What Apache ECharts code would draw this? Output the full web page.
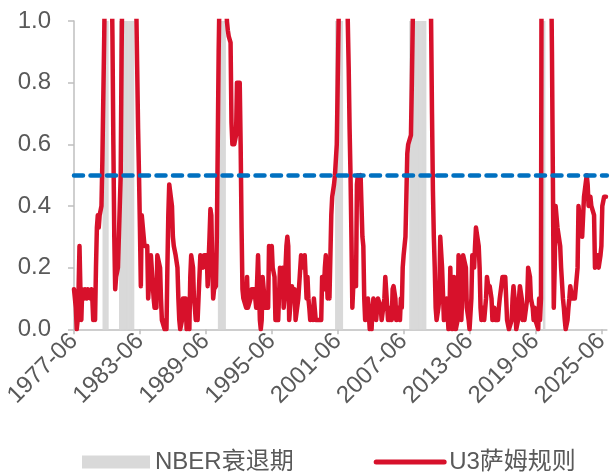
<!DOCTYPE html>
<html>
<head>
<meta charset="utf-8">
<script src="https://cdn.jsdelivr.net/npm/echarts@6/dist/echarts.min.js"></script>
<style>
html,body{margin:0;padding:0;background:#ffffff;}
#chart{width:612px;height:472px;}
</style>
</head>
<body>
<div id="chart"></div>
<script>
// Monthly axis: 1977-06 .. 2025-12
const startYear = 1977, startMonth = 6, endYear = 2025, endMonth = 12;
const tickLabelEvery = 72; // one label every 6 years (1977-06, 1983-06, ...)

// U3 Sahm rule indicator, monthly (values above 1.0 are clipped by the axis)
const sahmU3 = [
  /*1977 Jun-Dec*/ 0.13, 0.13, 0.07, 0.0, 0.03, 0.13, 0.27,
  /*1978*/ 0.13, 0.03, 0.13, 0.13, 0.1, 0.13, 0.13, 0.1, 0.13, 0.13, 0.13, 0.1,
  /*1979*/ 0.13, 0.1, 0.03, 0.07, 0.03, 0.2, 0.33, 0.37, 0.33, 0.37, 0.37, 0.4,
  /*1980*/ 0.55, 0.75, 0.95, 1.2, 1.4, 1.6, 1.7, 1.7, 1.6, 1.5, 1.2, 0.95,
  /*1981*/ 0.6, 0.3, 0.13, 0.17, 0.17, 0.2, 0.2, 0.2, 0.5, 0.9, 1.2, 1.5,
  /*1982*/ 1.8, 2.0, 2.2, 2.4, 2.5, 2.6, 2.6, 2.6, 2.5, 2.3, 2.0, 1.6,
  /*1983*/ 1.25, 1.05, 0.85, 0.65, 0.5, 0.33, 0.14, 0.37, 0.37, 0.37, 0.27, 0.27,
  /*1984*/ 0.27, 0.27, 0.1, 0.1, 0.1, 0.24, 0.24, 0.24, 0.1, 0.07, 0.1, 0.07,
  /*1985*/ 0.24, 0.24, 0.24, 0.2, 0.1, 0.03, 0.03, 0.03, 0.0, 0.03, 0.0, 0.2,
  /*1986*/ 0.37, 0.47, 0.47, 0.47, 0.4, 0.3, 0.27, 0.27, 0.24, 0.24, 0.2, 0.1,
  /*1987*/ 0.03, 0.0, 0.0, 0.03, 0.1, 0.1, 0.1, 0.1, 0.0, 0.0, 0.03, 0.0,
  /*1988*/ 0.17, 0.24, 0.24, 0.2, 0.1, 0.07, 0.03, 0.07, 0.03, 0.1, 0.1, 0.24,
  /*1989*/ 0.24, 0.24, 0.2, 0.24, 0.24, 0.24, 0.24, 0.14, 0.14, 0.3, 0.39, 0.37,
  /*1990*/ 0.2, 0.1, 0.13, 0.13, 0.14, 0.3, 0.6, 0.9, 1.1, 1.2, 1.3, 1.3,
  /*1991*/ 1.3, 1.3, 1.2, 1.1, 1.0, 0.97, 0.95, 0.95, 0.93, 0.67, 0.6, 0.65,
  /*1992*/ 0.6, 0.6, 0.63, 0.8, 0.8, 0.8, 0.8, 0.6, 0.33, 0.13, 0.1, 0.1,
  /*1993*/ 0.1, 0.07, 0.17, 0.07, 0.07, 0.07, 0.1, 0.13, 0.13, 0.13, 0.13, 0.1,
  /*1994*/ 0.07, 0.07, 0.24, 0.24, 0.03, 0.0, 0.03, 0.17, 0.17, 0.17, 0.07, 0.07,
  /*1995*/ 0.07, 0.07, 0.27, 0.27, 0.24, 0.27, 0.2, 0.2, 0.17, 0.03, 0.03, 0.03,
  /*1996*/ 0.03, 0.03, 0.2, 0.2, 0.17, 0.2, 0.07, 0.1, 0.2, 0.27, 0.3, 0.27,
  /*1997*/ 0.03, 0.03, 0.03, 0.14, 0.14, 0.1, 0.13, 0.03, 0.03, 0.03, 0.1, 0.1,
  /*1998*/ 0.1, 0.24, 0.24, 0.24, 0.2, 0.24, 0.24, 0.1, 0.17, 0.1, 0.07, 0.03,
  /*1999*/ 0.03, 0.07, 0.03, 0.1, 0.1, 0.03, 0.03, 0.03, 0.03, 0.03, 0.03, 0.03,
  /*2000*/ 0.17, 0.17, 0.13, 0.2, 0.24, 0.24, 0.1, 0.17, 0.1, 0.1, 0.37, 0.43,
  /*2001*/ 0.43, 0.47, 0.5, 0.5, 0.6, 0.8, 1.0, 1.2, 1.4, 1.5, 1.5, 1.5,
  /*2002*/ 1.5, 1.4, 1.3, 1.2, 1.0, 0.85, 0.65, 0.5, 0.3, 0.07, 0.14, 0.17,
  /*2003*/ 0.17, 0.14, 0.47, 0.5, 0.47, 0.47, 0.5, 0.4, 0.3, 0.27, 0.1, 0.03,
  /*2004*/ 0.03, 0.07, 0.1, 0.1, 0.0, 0.03, 0.0, 0.07, 0.1, 0.1, 0.07, 0.03,
  /*2005*/ 0.03, 0.1, 0.1, 0.1, 0.07, 0.03, 0.03, 0.03, 0.1, 0.17, 0.17, 0.17,
  /*2006*/ 0.03, 0.07, 0.03, 0.07, 0.03, 0.13, 0.14, 0.14, 0.1, 0.03, 0.03, 0.07,
  /*2007*/ 0.07, 0.03, 0.1, 0.07, 0.2, 0.24, 0.27, 0.3, 0.43, 0.57, 0.6, 0.6,
  /*2008*/ 0.6, 0.63, 0.8, 1.0, 1.2, 1.4, 1.6, 1.9, 2.2, 2.6, 3.0, 3.4,
  /*2009*/ 3.6, 3.8, 3.9, 4.0, 4.0, 3.8, 3.5, 3.0, 2.5, 2.0, 1.5, 1.0,
  /*2010*/ 0.7, 0.45, 0.3, 0.2, 0.07, 0.03, 0.03, 0.07, 0.1, 0.3, 0.3, 0.2,
  /*2011*/ 0.2, 0.03, 0.03, 0.07, 0.1, 0.1, 0.0, 0.03, 0.2, 0.03, 0.0, 0.0,
  /*2012*/ 0.17, 0.17, 0.0, 0.0, 0.03, 0.24, 0.24, 0.2, 0.03, 0.1, 0.24, 0.24,
  /*2013*/ 0.24, 0.2, 0.07, 0.07, 0.03, 0.0, 0.0, 0.1, 0.24, 0.24, 0.2, 0.27,
  /*2014*/ 0.33, 0.33, 0.33, 0.27, 0.2, 0.07, 0.03, 0.03, 0.07, 0.03, 0.03, 0.1,
  /*2015*/ 0.17, 0.17, 0.13, 0.14, 0.14, 0.1, 0.03, 0.03, 0.07, 0.03, 0.03, 0.03,
  /*2016*/ 0.03, 0.07, 0.1, 0.1, 0.1, 0.17, 0.17, 0.17, 0.17, 0.1, 0.03, 0.03,
  /*2017*/ 0.0, 0.0, 0.0, 0.03, 0.1, 0.14, 0.14, 0.07, 0.0, 0.0, 0.03, 0.1,
  /*2018*/ 0.14, 0.14, 0.1, 0.03, 0.07, 0.03, 0.03, 0.03, 0.1, 0.2, 0.2, 0.17,
  /*2019*/ 0.1, 0.1, 0.07, 0.03, 0.07, 0.03, 0.03, 0.03, 0.0, 0.1, 0.03, 0.1,
  /*2020*/ 0.1, 3.5, 4.5, 5.0, 5.0, 4.5, 4.0, 3.5, 3.0, 2.0, 1.2, 0.9,
  /*2021*/ 0.5, 0.07, 0.2, 0.4, 0.4, 0.33, 0.33, 0.33, 0.27, 0.2, 0.2, 0.1,
  /*2022*/ 0.07, 0.03, 0.0, 0.0, 0.03, 0.07, 0.1, 0.14, 0.14, 0.1, 0.1, 0.1,
  /*2023*/ 0.1, 0.1, 0.1, 0.2, 0.4, 0.4, 0.33, 0.37, 0.3, 0.3, 0.43, 0.43,
  /*2024*/ 0.43, 0.5, 0.47, 0.4, 0.4, 0.43, 0.4, 0.4, 0.4, 0.37, 0.2, 0.2,
  /*2025 Jan-Nov*/ 0.2, 0.24, 0.2, 0.2, 0.24, 0.27, 0.4, 0.4, 0.43, 0.43, 0.43
];

// NBER recession months [first, last]
const recessions = [
  ['1980-02', '1980-07'],
  ['1981-08', '1982-11'],
  ['1990-08', '1991-03'],
  ['2001-04', '2001-11'],
  ['2008-01', '2009-06'],
  ['2020-03', '2020-04']
];

const threshold = 0.5;
const yTickStep = 0.2;

// ---- build category labels
const months = [];
for (let y = startYear, m = startMonth; y < endYear || (y === endYear && m <= endMonth); ) {
  months.push(y + '-' + String(m).padStart(2, '0'));
  m++; if (m > 12) { m = 1; y++; }
}
const recessionFlag = months.map(c =>
  recessions.some(r => c >= r[0] && c <= r[1]) ? 1 : null);

const FONT = "'Liberation Sans', Arial, 'Noto Sans CJK SC', sans-serif";
const RED = '#D7112B';
const chart = echarts.init(document.getElementById('chart'), null, {renderer: 'canvas'});

chart.setOption({
  animation: false,
  backgroundColor: '#ffffff',
  grid: {left: 74, right: 0.5, top: 21, bottom: 142.7, containLabel: false},
  legend: {
    left: 77, top: 445,
    itemWidth: 68, itemHeight: 13, itemGap: 80,
    textStyle: {fontSize: 24, color: '#595959', fontFamily: FONT},
    data: [
      {name: 'NBER衰退期', icon: 'rect'},
      {name: 'U3萨姆规则', itemStyle: {opacity: 0}, lineStyle: {color: RED, width: 5, cap: 'round'}}
    ]
  },
  xAxis: {
    type: 'category',
    data: months,
    boundaryGap: false,
    axisLine: {show: true, lineStyle: {color: '#BFBFBF', width: 1.5}},
    axisTick: {show: true, interval: tickLabelEvery - 1, length: 5, lineStyle: {color: '#BFBFBF', width: 1.5}},
    axisLabel: {interval: tickLabelEvery - 1, rotate: 45, fontSize: 24, color: '#595959', fontFamily: FONT, margin: 8},
    splitLine: {show: false}
  },
  yAxis: {
    type: 'value',
    min: 0, max: 1, interval: yTickStep,
    axisLine: {show: true, lineStyle: {color: '#BFBFBF', width: 1.5}},
    axisTick: {show: true, length: 6, lineStyle: {color: '#BFBFBF', width: 1.5}},
    axisLabel: {formatter: v => v.toFixed(1), fontSize: 24, color: '#595959', fontFamily: FONT, margin: 23},
    splitLine: {show: false}
  },
  series: [
    {
      name: 'NBER衰退期',
      type: 'bar',
      data: recessionFlag,
      barWidth: 1.6,
      barGap: '-100%',
      itemStyle: {color: '#D9D9D9'},
      silent: true,
      z: 1
    },
    {
      name: 'U3萨姆规则',
      type: 'line',
      data: sahmU3,
      symbol: 'none',
      showSymbol: false,
      clip: true,
      itemStyle: {color: RED},
      lineStyle: {color: RED, width: 4.5, cap: 'round', join: 'round'},
      z: 3,
      markLine: {
        silent: true,
        symbol: ['none', 'none'],
        label: {show: false},
        lineStyle: {color: '#0070C0', width: 4.5, type: [9, 7.5], cap: 'round'},
        data: [{yAxis: threshold}]
      }
    }
  ]
});
</script>
</body>
</html>
